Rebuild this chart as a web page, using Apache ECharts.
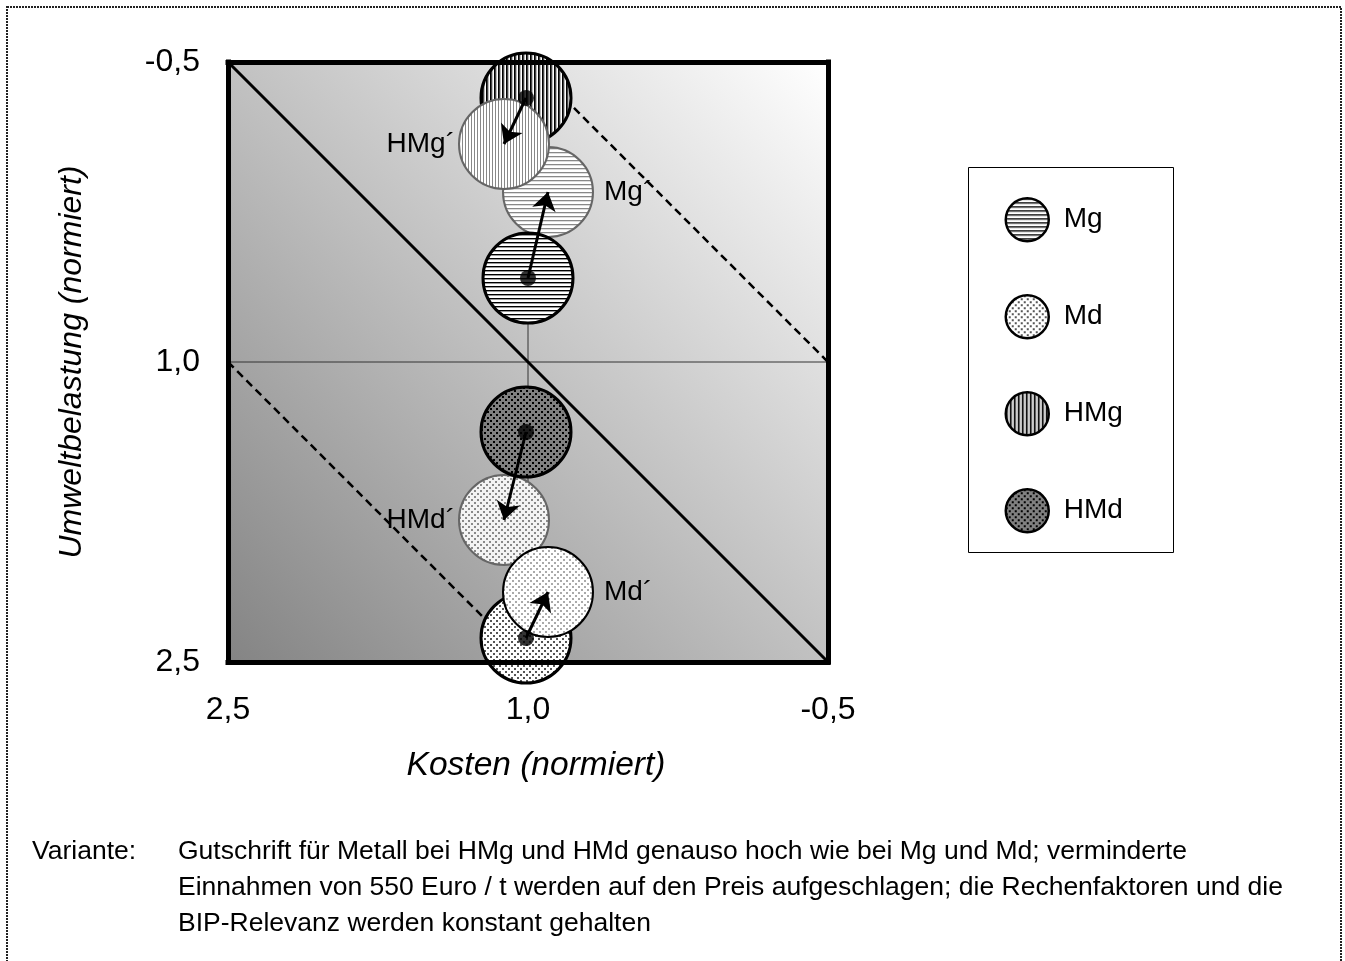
<!DOCTYPE html>
<html><head><meta charset="utf-8">
<script src="https://cdn.jsdelivr.net/npm/echarts@6/dist/echarts.min.js"></script>
<style>html,body{margin:0;padding:0;background:#fff}#c{width:1345px;height:961px}</style>
</head><body><div id="c"></div>
<script>
// ---- data ----
const seriesNames = ['Mg', 'Md', 'HMg', 'HMd'];
const primeNames = ['Mg´', 'Md´', 'HMg´', 'HMd´'];
const kostenBase = [1.00, 1.01, 1.01, 1.01];
const umweltBase = [0.58, 2.38, -0.32, 1.35];
const kostenVar = [0.90, 0.90, 1.12, 1.12];
const umweltVar = [0.15, 2.15, -0.09, 1.79];
const tickValues = [-0.5, 1.0, 2.5];
const diagonal = [[2.5, -0.5], [-0.5, 2.5]];
const dashLow = [[2.5, 1.0], [1.0, 2.5]];
const dashHigh = [[1.0, -0.5], [-0.5, 1.0]];
const crossH = [[2.5, 1.0], [-0.5, 1.0]];
const crossV = [[1.0, -0.5], [1.0, 2.5]];
const captionLabel = 'Variante:';
const captionLines = [
  'Gutschrift für Metall bei HMg und HMd genauso hoch wie bei Mg und Md; verminderte',
  'Einnahmen von 550 Euro / t werden auf den Preis aufgeschlagen; die Rechenfaktoren und die',
  'BIP-Relevanz werden konstant gehalten'
];

const FONT = '"Liberation Sans", Arial, sans-serif';
const fmt = v => Number(v).toFixed(1).replace('.', ',');

// ---- fill patterns ----
function mk(w, h, fn) { const c = document.createElement('canvas'); c.width = w; c.height = h; const g = c.getContext('2d'); fn(g); return c; }
function dots(bg, fg) {
  return mk(6, 6, g => { g.fillStyle = bg; g.fillRect(0, 0, 6, 6); g.fillStyle = fg; g.fillRect(0, 0, 2, 2); g.fillRect(3, 3, 2, 2); });
}
const canv = {
  'Mg': mk(4, 4, g => { g.fillStyle = '#fff'; g.fillRect(0, 0, 4, 4); g.fillStyle = '#000'; g.fillRect(0, 0, 4, 1); g.fillStyle = '#999'; g.fillRect(0, 1, 4, 1); }),
  'Mg´': mk(4, 4, g => { g.fillStyle = '#fff'; g.fillRect(0, 0, 4, 4); g.fillStyle = '#888'; g.fillRect(0, 0, 4, 1); g.fillStyle = '#ddd'; g.fillRect(0, 1, 4, 1); }),
  'HMg': mk(4, 4, g => { g.fillStyle = '#000'; g.fillRect(0, 0, 1, 4); g.fillStyle = '#444'; g.fillRect(1, 0, 1, 4); g.fillStyle = '#bbb'; g.fillRect(2, 0, 1, 4); g.fillStyle = '#fff'; g.fillRect(3, 0, 1, 4); }),
  'HMg´': mk(3, 3, g => { g.fillStyle = '#fff'; g.fillRect(0, 0, 3, 3); g.fillStyle = '#888'; g.fillRect(0, 0, 1, 3); }),
  'HMd': dots('#808080', '#000'),
  'HMd´': dots('#f4f4f4', '#8a8a8a'),
  'Md': dots('#ffffff', '#555'),
  'Md´': dots('#ffffff', '#aaa')
};
const SYM = 90;
function pat(name, scale) { return { image: canv[name], repeat: 'repeat', scaleX: scale, scaleY: scale }; }

const borders = {
  'Mg': ['#000', 3], 'Md': ['#000', 3], 'HMg': ['#000', 3], 'HMd': ['#000', 3],
  'Mg´': ['#666', 2], 'HMg´': ['#666', 2], 'HMd´': ['#666', 2], 'Md´': ['#000', 2]
};
const labelPos = { 'Mg´': ['right', 10], 'Md´': ['right', 10], 'HMg´': ['left', 3], 'HMd´': ['left', 3] };

function circleSeries(name, x, y) {
  const lp = labelPos[name];
  return {
    type: 'scatter', name: name, data: [[x, y]], symbol: 'circle', symbolSize: SYM, z: 2,
    itemStyle: { color: pat(name, 2 / SYM), borderColor: borders[name][0], borderWidth: borders[name][1], opacity: 1 },
    label: lp ? { show: true, position: lp[0], distance: lp[1], formatter: '{a}', fontSize: 28, color: '#000', fontFamily: FONT } : { show: false },
    emphasis: { disabled: true }, silent: true
  };
}
const byName = {};
seriesNames.forEach((n, i) => { byName[n] = [kostenBase[i], umweltBase[i]]; });
primeNames.forEach((n, i) => { byName[n] = [kostenVar[i], umweltVar[i]]; });
const drawOrder = ['Mg´', 'HMg', 'HMg´', 'Mg', 'HMd´', 'HMd', 'Md', 'Md´'];

function refLine(data, width, type, color) {
  return { type: 'line', data: data, symbol: 'none', z: 1, silent: true,
    lineStyle: { color: color, width: width, type: type }, emphasis: { disabled: true } };
}

const axisLine = { show: true, onZero: false, lineStyle: { color: '#000', width: 5, cap: 'square' } };
const noTick = { show: false };
const noSplit = { show: false };

const chart = echarts.init(document.getElementById('c'));
chart.setOption({
  animation: false,
  backgroundColor: '#fff',
  grid: {
    left: 228, top: 62, width: 600, height: 600, show: true, borderWidth: 0,
    backgroundColor: new echarts.graphic.LinearGradient(0, 1, 1, 0, [
      { offset: 0, color: '#848484' }, { offset: 1, color: '#ffffff' }
    ])
  },
  xAxis: [
    { type: 'value', min: -0.5, max: 2.5, inverse: true, position: 'bottom', z: 10,
      axisLine: axisLine, axisTick: noTick, splitLine: noSplit,
      axisLabel: { customValues: tickValues, formatter: fmt, fontSize: 32, margin: 32, color: '#000', fontFamily: FONT },
      name: 'Kosten (normiert)', nameLocation: 'middle', nameGap: 87,
      nameTextStyle: { fontSize: 33.5, fontStyle: 'italic', color: '#000', fontFamily: FONT, padding: [0, 0, 0, 16] } },
    { type: 'value', min: -0.5, max: 2.5, inverse: true, position: 'top', z: 10,
      axisLine: axisLine, axisTick: noTick, splitLine: noSplit, axisLabel: { show: false } }
  ],
  yAxis: [
    { type: 'value', min: -0.5, max: 2.5, inverse: true, position: 'left', z: 10,
      axisLine: axisLine, axisTick: noTick, splitLine: noSplit,
      axisLabel: { customValues: tickValues, formatter: fmt, fontSize: 32, margin: 28, color: '#000', fontFamily: FONT },
      name: 'Umweltbelastung (normiert)', nameLocation: 'middle', nameGap: 140,
      nameTextStyle: { fontSize: 32, fontStyle: 'italic', color: '#000', fontFamily: FONT } },
    { type: 'value', min: -0.5, max: 2.5, inverse: true, position: 'right', z: 10,
      axisLine: axisLine, axisTick: noTick, splitLine: noSplit, axisLabel: { show: false } }
  ],
  legend: {
    orient: 'vertical', left: 1004.5, top: 197, itemWidth: 43, itemHeight: 43, itemGap: 51.5,
    padding: 0, selectedMode: false, z: 5,
    data: seriesNames.map(n => ({ name: n, icon: 'circle',
      itemStyle: { color: pat(n, 1), borderColor: '#000', borderWidth: 2.5 } })),
    textStyle: { fontSize: 28, color: '#000', fontFamily: FONT, padding: [0, 0, 0, 10] }
  },
  graphic: [
    { type: 'rect', silent: true, z: 0, shape: { x: 7, y: 7, width: 1334, height: 990 },
      style: { fill: 'none', stroke: '#222', lineWidth: 2, lineDash: [2, 1] } },
    { type: 'rect', silent: true, z: 1, shape: { x: 968.5, y: 167.5, width: 205, height: 385 },
      style: { fill: '#fff', stroke: '#000', lineWidth: 1 } },
    { type: 'text', silent: true, x: 32, y: 852,
      style: { text: captionLabel, fontSize: 26.5, fontFamily: FONT, fill: '#000', verticalAlign: 'middle' } }
  ].concat(captionLines.map((t, i) => ({ type: 'text', silent: true, x: 178, y: 852 + i * 36,
      style: { text: t, fontSize: 26.5, fontFamily: FONT, fill: '#000', verticalAlign: 'middle' } }))),
  series: [
    refLine(crossH, 1, 'solid', '#333'),
    refLine(crossV, 1, 'solid', '#333'),
    refLine(diagonal, 3, 'solid', '#000'),
    refLine(dashLow, 2.5, [8, 5], '#000'),
    refLine(dashHigh, 2.5, [8, 5], '#000')
  ].concat(drawOrder.map(n => circleSeries(n, byName[n][0], byName[n][1])))
   .concat([
    { type: 'lines', coordinateSystem: 'cartesian2d', z: 3, silent: true,
      data: seriesNames.map((n, i) => ({ coords: [[kostenBase[i], umweltBase[i]], [kostenVar[i], umweltVar[i]]] })),
      symbol: ['none', 'arrow'], symbolSize: 18,
      lineStyle: { color: '#000', width: 3, opacity: 1, curveness: 0 } },
    { type: 'scatter', name: 'dots', z: 4, silent: true, symbolSize: 16,
      data: kostenBase.map((x, i) => [x, umweltBase[i]]), itemStyle: { color: '#000' } }
  ])
});
</script>
</body></html>
